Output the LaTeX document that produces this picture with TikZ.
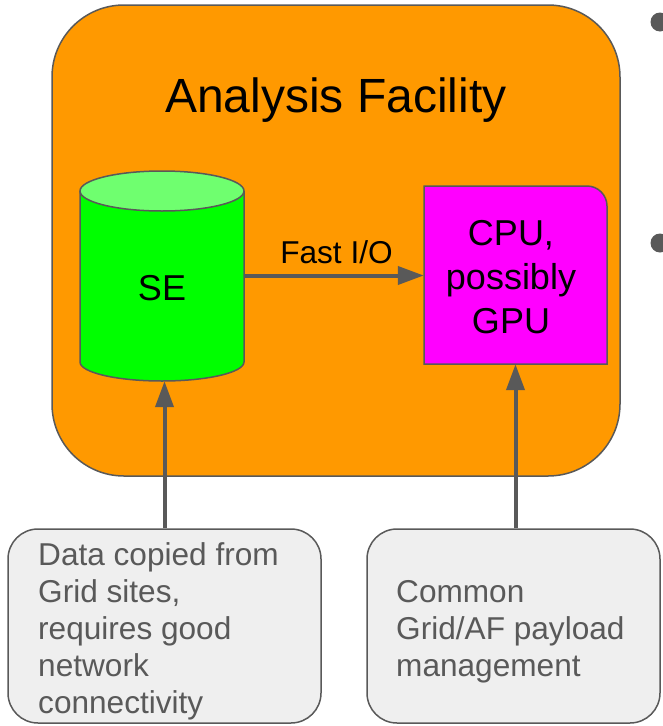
\documentclass[tikz,border=0pt]{standalone}
\usepackage{fontspec}
\setmainfont{Liberation Sans}
\usetikzlibrary{arrows.meta}
\definecolor{orangeaf}{HTML}{FF9900}
\definecolor{edgegray}{HTML}{595959}
\definecolor{segreen}{HTML}{00FF00}
\definecolor{setop}{HTML}{6FFF6F}
\definecolor{cpumag}{HTML}{FF00FF}
\definecolor{notefill}{HTML}{EFEFEF}
\begin{document}
\begin{tikzpicture}[x=1pt,y=-1pt,
  outline/.style={draw=edgegray, line width=1.5pt},
  arr/.style={draw=edgegray, line width=4pt, -{Triangle[length=26pt,width=18pt]}},
  notebox/.style={outline, fill=notefill, rounded corners=30pt, inner sep=0pt},
  notetext/.style={font=\fontsize{31.6}{37}\selectfont, text=edgegray, anchor=base west, inner sep=0pt},
  bigtext/.style={font=\fontsize{36}{44}\selectfont, anchor=base, inner sep=0pt},
  bulletdot/.style={circle, fill=edgegray, minimum size=19pt, inner sep=0pt},
  anchorbox/.style={inner sep=0pt}]
\useasboundingbox (0,0) rectangle (662,726);

% Analysis Facility container
\node[outline, fill=orangeaf, rounded corners=72pt, minimum width=568pt, minimum height=471pt, inner sep=0pt] (af) at (336,240.5) {};
\node[font=\fontsize{48}{58}\selectfont, anchor=base, inner sep=0pt] (title) at (336,112) {Analysis Facility};

% SE cylinder
\fill[segreen] (80,191) -- (80,362) .. controls (80,372.5) and (116.7,381) .. (162,381)
  .. controls (207.3,381) and (244,372.5) .. (244,362) -- (244,191) -- cycle;
\draw[outline] (80,191) -- (80,362) .. controls (80,372.5) and (116.7,381) .. (162,381)
  .. controls (207.3,381) and (244,372.5) .. (244,362) -- (244,191);
\draw[outline, fill=setop] (162,191) ellipse [x radius=82pt, y radius=20pt];
\node[anchorbox, minimum width=164pt, minimum height=211pt] (se) at (162,275.5) {};
\node[bigtext] (selabel) at (162,300) {SE};

% CPU box
\draw[outline, fill=cpumag] (424,364) -- (424,186) -- (587,186)
  .. controls (598,186) and (607,195) .. (607,206) -- (607,364) -- cycle;
\node[anchorbox, minimum width=183pt, minimum height=178pt] (cpu) at (515.5,275) {};
\node[bigtext] (cpulabel) at (511,245) {\begin{tabular}[t]{@{}c@{}}CPU,\\possibly\\GPU\end{tabular}};

% Fast I/O connector
\draw[arr] (se.east) -- (se.east -| cpu.west);
\node[font=\fontsize{31.6}{38}\selectfont, anchor=base, inner sep=0pt] (fastio) at (336.5,263) {Fast I/O};

% Notes
\node[notebox, minimum width=313pt, minimum height=194pt] (note1) at (164.5,626) {};
\node[notetext] (note1text) at (38,565) {\begin{tabular}[t]{@{}l@{}}Data copied from\\Grid sites,\\requires good\\network\\connectivity\end{tabular}};
\node[notebox, minimum width=293pt, minimum height=194pt] (note2) at (513.5,626) {};
\node[notetext] (note2text) at (396,602) {\begin{tabular}[t]{@{}l@{}}Common\\Grid/AF payload\\management\end{tabular}};

% Vertical connectors
\draw[arr] (note1.north) -- (note1.north |- se.south);
\draw[arr] (note2.north -| cpu.south) -- (cpu.south);

% Bullets (cut off at right edge)
\node[bulletdot] (bullet1) at (660,22) {};
\node[bulletdot] (bullet2) at (660,243) {};
\end{tikzpicture}
\end{document}
